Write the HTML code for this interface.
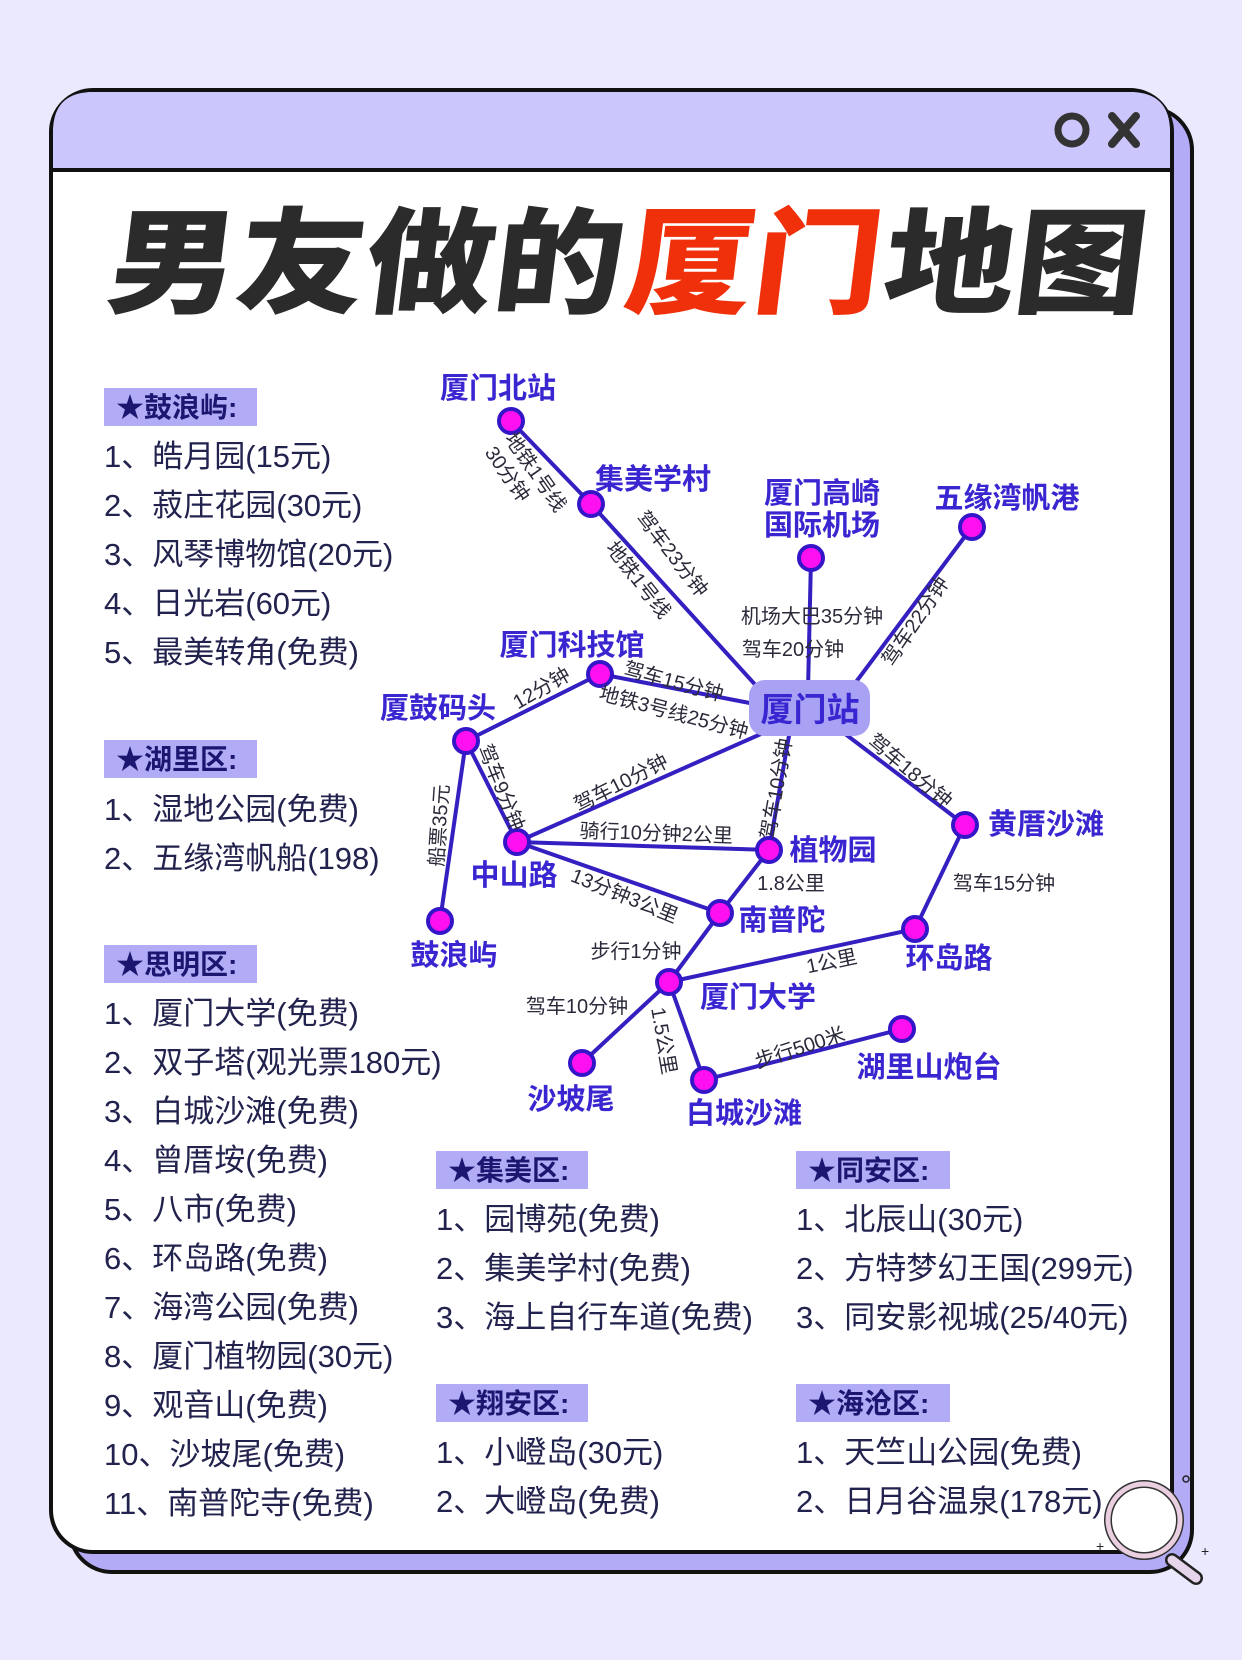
<!DOCTYPE html>
<html><head><meta charset="utf-8"><style>
html,body{margin:0;padding:0;background:#ebe9fd;}
svg{display:block}
text{font-family:"Liberation Sans","Noto Sans CJK SC",sans-serif;}
.it{font-size:31px;fill:#22224e;}
.hd{font-size:28px;font-weight:bold;fill:#1c1670;}
.nl{font-size:29px;font-weight:bold;fill:#3a26d0;}
.el{font-size:20px;fill:#2a2a3a;}
.e{stroke:#3420c0;stroke-width:4;fill:none}
.n{fill:#ff10f0;stroke:#3416c8;stroke-width:4}
</style></head><body>
<svg width="1242" height="1660" viewBox="0 0 1242 1660" xmlns="http://www.w3.org/2000/svg">
<rect width="1242" height="1660" fill="#ebe9fd"/>
<rect x="70" y="108" width="1122" height="1464" rx="42" fill="#b3abf6" stroke="#111" stroke-width="4"/>
<rect x="51" y="90" width="1121" height="1462" rx="42" fill="#fff" stroke="#111" stroke-width="4"/>
<path d="M53 170 L53 132 Q53 92 93 92 L1130 92 Q1170 92 1170 132 L1170 170 Z" fill="#cbc6fc"/>
<line x1="51" y1="170" x2="1172" y2="170" stroke="#111" stroke-width="4"/>
<circle cx="1072" cy="130" r="14" fill="none" stroke="#333" stroke-width="7"/>
<path d="M1112 116 L1136 144 M1136 116 L1112 144" stroke="#333" stroke-width="8" stroke-linecap="round"/>
<g transform="translate(104,304) skewX(-7)">
<text x="0" y="0" font-size="115" font-weight="900" fill="#2b2b2b" textLength="515" lengthAdjust="spacingAndGlyphs" style="font-family:'Noto Sans CJK SC',sans-serif">男友做的</text>
<text x="518" y="0" font-size="115" font-weight="900" fill="#f0300a" textLength="255" lengthAdjust="spacingAndGlyphs" style="font-family:'Noto Sans CJK SC',sans-serif">厦门</text>
<text x="776" y="0" font-size="115" font-weight="900" fill="#2b2b2b" textLength="262" lengthAdjust="spacingAndGlyphs" style="font-family:'Noto Sans CJK SC',sans-serif">地图</text>
</g>
<g fill="#b2acf7">
<rect x="104" y="388" width="153" height="38"/>
<rect x="104" y="740" width="153" height="38"/>
<rect x="104" y="945" width="153" height="38"/>
<rect x="436" y="1151" width="152" height="38"/>
<rect x="436" y="1384" width="152" height="38"/>
<rect x="796" y="1151" width="154" height="38"/>
<rect x="796" y="1384" width="154" height="38"/>
</g>
<g class="hd">
<text x="116" y="417">★鼓浪屿:</text>
<text x="116" y="769">★湖里区:</text>
<text x="116" y="974">★思明区:</text>
<text x="448" y="1180">★集美区:</text>
<text x="448" y="1413">★翔安区:</text>
<text x="808" y="1180">★同安区:</text>
<text x="808" y="1413">★海沧区:</text>
</g>
<g class="it">
<text x="104" y="467">1、皓月园(15元)</text>
<text x="104" y="516">2、菽庄花园(30元)</text>
<text x="104" y="565">3、风琴博物馆(20元)</text>
<text x="104" y="614">4、日光岩(60元)</text>
<text x="104" y="663">5、最美转角(免费)</text>
<text x="104" y="820">1、湿地公园(免费)</text>
<text x="104" y="869">2、五缘湾帆船(198)</text>
<text x="104" y="1024">1、厦门大学(免费)</text>
<text x="104" y="1073">2、双子塔(观光票180元)</text>
<text x="104" y="1122">3、白城沙滩(免费)</text>
<text x="104" y="1171">4、曾厝垵(免费)</text>
<text x="104" y="1220">5、八市(免费)</text>
<text x="104" y="1269">6、环岛路(免费)</text>
<text x="104" y="1318">7、海湾公园(免费)</text>
<text x="104" y="1367">8、厦门植物园(30元)</text>
<text x="104" y="1416">9、观音山(免费)</text>
<text x="104" y="1465">10、沙坡尾(免费)</text>
<text x="104" y="1514">11、南普陀寺(免费)</text>
<text x="436" y="1230">1、园博苑(免费)</text>
<text x="436" y="1279">2、集美学村(免费)</text>
<text x="436" y="1328">3、海上自行车道(免费)</text>
<text x="436" y="1463">1、小嶝岛(30元)</text>
<text x="436" y="1512">2、大嶝岛(免费)</text>
<text x="796" y="1230">1、北辰山(30元)</text>
<text x="796" y="1279">2、方特梦幻王国(299元)</text>
<text x="796" y="1328">3、同安影视城(25/40元)</text>
<text x="796" y="1463">1、天竺山公园(免费)</text>
<text x="796" y="1512">2、日月谷温泉(178元)</text>
</g>
<g class="e">
<line x1="511" y1="421" x2="591" y2="504"/>
<line x1="591" y1="504" x2="760" y2="690"/>
<line x1="811" y1="558" x2="808" y2="690"/>
<line x1="972" y1="527" x2="850" y2="690"/>
<line x1="600" y1="674" x2="760" y2="705"/>
<line x1="466" y1="741" x2="600" y2="674"/>
<line x1="466" y1="741" x2="517" y2="842"/>
<line x1="466" y1="741" x2="440" y2="921"/>
<line x1="517" y1="842" x2="770" y2="730"/>
<line x1="769" y1="850" x2="790" y2="730"/>
<line x1="965" y1="825" x2="840" y2="730"/>
<line x1="517" y1="842" x2="769" y2="850"/>
<line x1="517" y1="842" x2="720" y2="913"/>
<line x1="769" y1="850" x2="720" y2="913"/>
<line x1="965" y1="825" x2="915" y2="929"/>
<line x1="720" y1="913" x2="669" y2="982"/>
<line x1="669" y1="982" x2="915" y2="929"/>
<line x1="669" y1="982" x2="582" y2="1063"/>
<line x1="669" y1="982" x2="704" y2="1080"/>
<line x1="704" y1="1080" x2="902" y2="1029"/>
</g>
<rect x="749" y="680" width="121" height="56" rx="16" fill="#a9a2f4"/>
<text x="810" y="721" text-anchor="middle" font-size="33" font-weight="bold" fill="#3a26d0">厦门站</text>
<g class="n">
<circle cx="511" cy="421" r="12"/><circle cx="591" cy="504" r="12"/>
<circle cx="811" cy="558" r="12"/><circle cx="972" cy="527" r="12"/>
<circle cx="600" cy="674" r="12"/><circle cx="466" cy="741" r="12"/>
<circle cx="517" cy="842" r="12"/><circle cx="769" cy="850" r="12"/>
<circle cx="965" cy="825" r="12"/><circle cx="440" cy="921" r="12"/>
<circle cx="720" cy="913" r="12"/><circle cx="915" cy="929" r="12"/>
<circle cx="669" cy="982" r="12"/><circle cx="582" cy="1063" r="12"/>
<circle cx="704" cy="1080" r="12"/><circle cx="902" cy="1029" r="12"/>
</g>
<g class="nl" text-anchor="middle">
<text x="498" y="398">厦门北站</text>
<text x="653" y="489">集美学村</text>
<text x="822" y="503">厦门高崎</text>
<text x="822" y="535">国际机场</text>
<text x="1007" y="508">五缘湾帆港</text>
<text x="572" y="655">厦门科技馆</text>
<text x="438" y="718">厦鼓码头</text>
<text x="514" y="885">中山路</text>
<text x="833" y="860">植物园</text>
<text x="1046" y="834">黄厝沙滩</text>
<text x="454" y="965">鼓浪屿</text>
<text x="782" y="930">南普陀</text>
<text x="949" y="968">环岛路</text>
<text x="758" y="1007">厦门大学</text>
<text x="571" y="1109">沙坡尾</text>
<text x="744" y="1123">白城沙滩</text>
<text x="929" y="1077">湖里山炮台</text>
</g>
<g class="el" text-anchor="middle">
<text transform="translate(530,476) rotate(55)">地铁1号线</text>
<text transform="translate(502,478) rotate(55)">30分钟</text>
<text transform="translate(667,558) rotate(52)">驾车23分钟</text>
<text transform="translate(633,584) rotate(52)">地铁1号线</text>
<text x="812" y="623">机场大巴35分钟</text>
<text x="793" y="656">驾车20分钟</text>
<text transform="translate(921,625) rotate(-56)">驾车22分钟</text>
<text transform="translate(672,688) rotate(15)">驾车15分钟</text>
<text transform="translate(672,719) rotate(15)">地铁3号线25分钟</text>
<text transform="translate(545,694) rotate(-30)">12分钟</text>
<text transform="translate(495,790) rotate(68)">驾车9分钟</text>
<text transform="translate(446,826) rotate(-86)">船票35元</text>
<text transform="translate(624,789) rotate(-27)">驾车10分钟</text>
<text transform="translate(783,790) rotate(-80)">驾车10分钟</text>
<text transform="translate(906,776) rotate(40)">驾车18分钟</text>
<text transform="translate(656,840) rotate(2)">骑行10分钟2公里</text>
<text x="791" y="890">1.8公里</text>
<text transform="translate(622,902) rotate(22)">13分钟3公里</text>
<text x="1004" y="890">驾车15分钟</text>
<text x="636" y="958">步行1分钟</text>
<text transform="translate(833,968) rotate(-12)">1公里</text>
<text x="577" y="1013">驾车10分钟</text>
<text transform="translate(657,1042) rotate(80)">1.5公里</text>
<text transform="translate(802,1054) rotate(-18)">步行500米</text>
</g>
<line x1="1172" y1="1560" x2="1196" y2="1578" stroke="#222" stroke-width="14" stroke-linecap="round"/>
<line x1="1172" y1="1560" x2="1196" y2="1578" stroke="#e6d4ea" stroke-width="9" stroke-linecap="round"/>
<circle cx="1144" cy="1520" r="36" fill="#fff" stroke="#333" stroke-width="8"/>
<circle cx="1144" cy="1520" r="36" fill="none" stroke="#e9cfe0" stroke-width="5"/>
<circle cx="1186" cy="1479" r="3" fill="none" stroke="#222" stroke-width="1.5"/>
<text x="1096" y="1551" font-size="14" fill="#222">+</text>
<text x="1201" y="1556" font-size="14" fill="#222">+</text>
</svg>
</body></html>
